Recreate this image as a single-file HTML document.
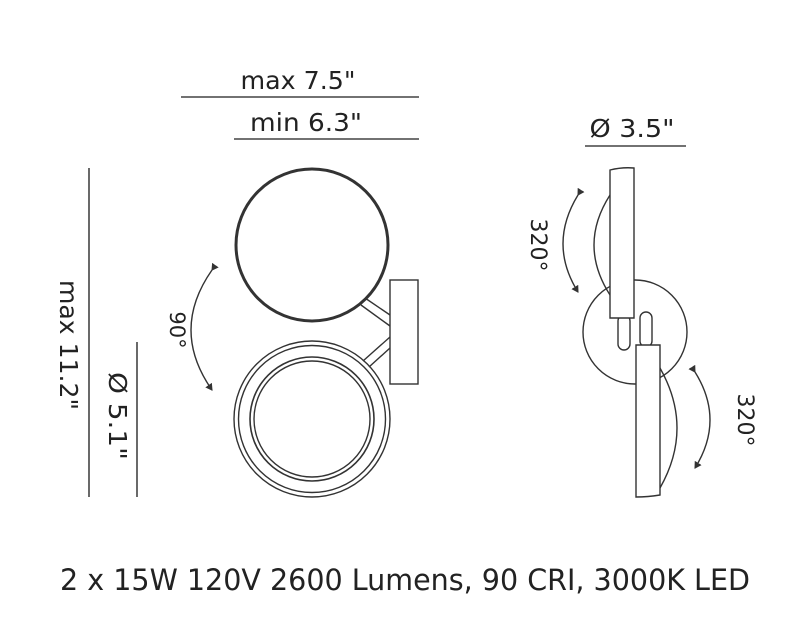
<!DOCTYPE html>
<html><head><meta charset="utf-8"><style>
html,body{margin:0;padding:0;background:#fff}
svg{display:block}
text{font-family:"DejaVu Sans","Liberation Sans",sans-serif;fill:#222}
</style></head><body>
<svg width="800" height="620" viewBox="0 0 800 620" xmlns="http://www.w3.org/2000/svg">
<defs>
<marker id="ah" markerWidth="8" markerHeight="8" refX="6" refY="4" orient="auto" markerUnits="userSpaceOnUse">
<path d="M0,0 L7,4 L0,8 z" fill="#333"/></marker>
</defs>
<g stroke="#444" stroke-width="1.6" fill="none">
<line x1="181" y1="97" x2="419" y2="97"/>
<line x1="234" y1="139" x2="419" y2="139"/>
<line x1="585" y1="146" x2="686" y2="146"/>
<line x1="89" y1="168" x2="89" y2="497"/>
<line x1="137" y1="342" x2="137" y2="497"/>
</g>
<text x="298" y="89" font-size="25" text-anchor="middle" textLength="115" lengthAdjust="spacingAndGlyphs">max 7.5"</text>
<text x="306" y="131" font-size="25" text-anchor="middle" textLength="112" lengthAdjust="spacingAndGlyphs">min 6.3"</text>
<text x="632" y="137" font-size="25" text-anchor="middle" textLength="85" lengthAdjust="spacingAndGlyphs">Ø 3.5"</text>
<text transform="translate(60,345) rotate(90)" font-size="25" text-anchor="middle" textLength="130" lengthAdjust="spacingAndGlyphs">max 11.2"</text>
<text transform="translate(109,416) rotate(90)" font-size="25" text-anchor="middle" textLength="88" lengthAdjust="spacingAndGlyphs">Ø 5.1"</text>

<g stroke="#333" fill="none">
<circle cx="312" cy="245" r="76" stroke-width="3"/>
<circle cx="312" cy="419" r="78" stroke-width="1.4"/>
<circle cx="312" cy="419" r="73.5" stroke-width="1.4"/>
<circle cx="312" cy="419" r="62" stroke-width="1.6"/>
<circle cx="312" cy="419" r="58" stroke-width="1.4"/>
<rect x="390" y="280" width="28" height="104" stroke-width="1.4" fill="#fff"/>
<line x1="365" y1="298" x2="390" y2="315" stroke-width="1.4"/>
<line x1="361" y1="305" x2="390" y2="326" stroke-width="1.4"/>
<line x1="363" y1="361" x2="390" y2="337" stroke-width="1.4"/>
<line x1="369" y1="367" x2="390" y2="348" stroke-width="1.4"/>
<path d="M212,270 Q170,330 212,390" stroke-width="1.4" marker-start="url(#ah)" marker-end="url(#ah)"/>
</g>
<text transform="translate(170,330) rotate(90)" font-size="21" text-anchor="middle">90°</text>

<g stroke="#333" fill="none" stroke-width="1.4">
<circle cx="635" cy="332" r="52" fill="#fff"/>
<path d="M610,195 Q578,245 610,295"/>
<path d="M660,368 Q694,428 660,488"/>
<rect x="618" y="315" width="12" height="35" rx="6" fill="#fff"/>
<rect x="640" y="312" width="12" height="35" rx="6" fill="#fff"/>
<path d="M610,318 L610,170 Q622,167 634,168 L634,318 Z" fill="#fff"/>
<path d="M636,345 L660,345 L660,495 Q648,497 636,497 Z" fill="#fff"/>
<path d="M578,195 Q548,244 578,292" marker-start="url(#ah)" marker-end="url(#ah)"/>
<path d="M695,372 Q725,420 695,468" marker-start="url(#ah)" marker-end="url(#ah)"/>
</g>
<text transform="translate(531,245) rotate(90)" font-size="22" text-anchor="middle">320°</text>
<text transform="translate(738,420) rotate(90)" font-size="22" text-anchor="middle">320°</text>

<text x="405" y="590" font-size="29" text-anchor="middle" textLength="690" lengthAdjust="spacingAndGlyphs">2 x 15W 120V 2600 Lumens, 90 CRI, 3000K LED</text>
</svg>
</body></html>
